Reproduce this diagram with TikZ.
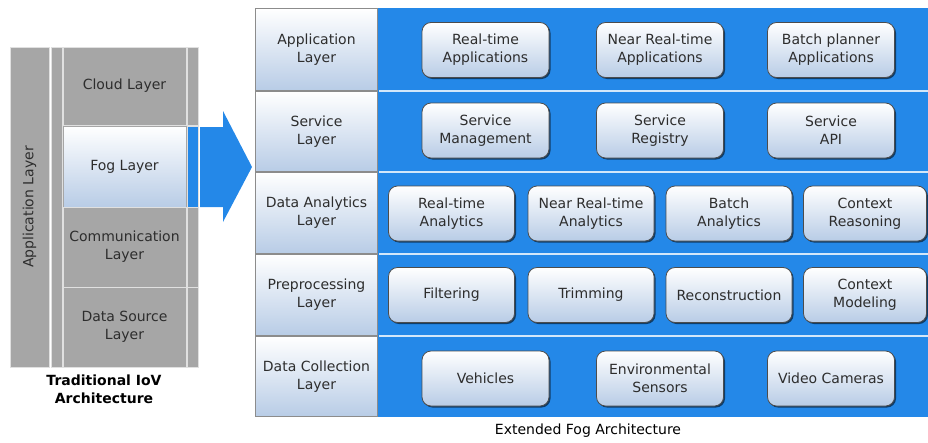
\documentclass[tikz,border=0pt]{standalone}
\usepackage{fontspec}
\setmainfont{DejaVu Sans}
\usetikzlibrary{shadows}

\definecolor{azulfog}{RGB}{36,136,232}
\definecolor{azulclaro}{RGB}{184,204,230}
\definecolor{cinzacamada}{RGB}{166,166,166}
\definecolor{textoescuro}{RGB}{45,45,45}

\begin{document}
\begin{tikzpicture}[x=1pt,y=-1pt,
    font=\fontsize{14}{18}\selectfont,
    cinza/.style={draw=white!88!black, line width=1pt, fill=cinzacamada,
        text=textoescuro, align=center, inner sep=0pt},
    rotulo/.style={draw=black!45, line width=0.8pt, top color=white, bottom color=azulclaro,
        text=textoescuro, align=center, inner sep=0pt,
        minimum width=122pt},
    caixa/.style={draw=black!70, line width=0.8pt, rounded corners=9pt,
        top color=white, bottom color=azulclaro, text=textoescuro,
        align=center, inner sep=0pt, minimum height=55pt,
        drop shadow={shadow xshift=1.5pt, shadow yshift=-1.5pt, opacity=0.55, fill=black}},
    separa/.style={draw=white!80!azulfog, line width=1.5pt}]

        \useasboundingbox (0,0) rectangle (928,442);

        % arquitetura tradicional
        \node[cinza, rotate=90, minimum width=320pt, minimum height=39pt] (appvert) at (29.5,207) {Application Layer};
        \node[cinza, minimum width=11pt, minimum height=320pt] (barraE) at (56.5,207) {};
        \node[cinza, minimum width=123pt, minimum height=78pt] (cloud) at (124.5,86) {Cloud Layer};
        \node[rotulo, draw=black!35, minimum width=123pt, minimum height=81pt] (fog) at (124.5,166.5) {Fog Layer};
        \node[cinza, minimum width=123pt, minimum height=80pt] (comm) at (124.5,247) {Communication\\Layer};
        \node[cinza, minimum width=123pt, minimum height=80pt] (fonte) at (124.5,327) {Data Source\\Layer};

        \node[cinza, minimum width=11pt, minimum height=78pt] (barraD1) at (192.5,86) {};
        \node[cinza, fill=azulfog, minimum width=11pt, minimum height=81pt] (barraD2) at (192.5,166.5) {};
        \node[cinza, minimum width=11pt, minimum height=80pt] (barraD3) at (192.5,247) {};
        \node[cinza, minimum width=11pt, minimum height=80pt] (barraD4) at (192.5,327) {};

        \node[font=\fontsize{14}{18}\selectfont\bfseries, align=center] (tituloT) at (104,389) {Traditional IoV\\Architecture};

        % seta
        \coordinate (S1) at (200,127);
        \coordinate (S2) at (223,127);
        \coordinate (S3) at (223,111);
        \coordinate (ponta) at (252,167);
        \coordinate (S4) at (223,222);
        \coordinate (S5) at (223,207);
        \coordinate (S6) at (200,207);
        \fill[azulfog] (S1) -- (S2) -- (S3) -- (ponta) -- (S4) -- (S5) -- (S6) -- cycle;

        % arquitetura fog estendida
        \fill[azulfog] (378,8) rectangle (928,417);
        \draw[separa] (379,91) -- (928,91);
        \draw[separa] (379,172) -- (928,172);
        \draw[separa] (379,254) -- (928,254);
        \draw[separa] (379,336) -- (928,336);

        \node[rotulo, minimum height=82pt] (appL) at (316.5,49.5) {Application\\Layer};
        \node[rotulo, minimum height=80pt] (servL) at (316.5,131.5) {Service\\Layer};
        \node[rotulo, minimum height=81pt] (dadosL) at (316.5,213) {Data Analytics\\Layer};
        \node[rotulo, minimum height=81pt] (preL) at (316.5,295) {Preprocessing\\Layer};
        \node[rotulo, minimum height=80pt] (coletaL) at (316.5,376.5) {Data Collection\\Layer};

        % camada de aplicacao
        \node[caixa, minimum width=127pt] (rtApp) at (485.5,50) {Real-time\\Applications};
        \node[caixa, minimum width=127pt] (nrtApp) at (660,50) {Near Real-time\\Applications};
        \node[caixa, minimum width=127pt] (batchApp) at (831,50) {Batch planner\\Applications};

        % camada de servico
        \node[caixa, minimum width=127pt] (servMan) at (485.5,130.5) {Service\\Management};
        \node[caixa, minimum width=127pt] (servReg) at (660,130.5) {Service\\Registry};
        \node[caixa, minimum width=127pt] (servAPI) at (831,130.5) {Service\\API};

        % camada de analise
        \node[caixa, minimum width=126pt] (rtAna) at (451.5,213.5) {Real-time\\Analytics};
        \node[caixa, minimum width=126pt] (nrtAna) at (591,213.5) {Near Real-time\\Analytics};
        \node[caixa, minimum width=126pt] (batchAna) at (729,213.5) {Batch\\Analytics};
        \node[caixa, minimum width=123pt] (ctxRea) at (865,213.5) {Context\\Reasoning};

        % camada de preprocessamento
        \node[caixa, minimum width=126pt] (filtro) at (451.5,295) {Filtering};
        \node[caixa, minimum width=126pt] (corte) at (591,295) {Trimming};
        \node[caixa, minimum width=126pt] (recons) at (729,295) {Reconstruction};
        \node[caixa, minimum width=123pt] (ctxMod) at (865,295) {Context\\Modeling};

        % camada de coleta
        \node[caixa, minimum width=127pt] (veic) at (485.5,378.5) {Vehicles};
        \node[caixa, minimum width=127pt] (sensor) at (660,378.5) {Environmental\\Sensors};
        \node[caixa, minimum width=127pt] (camera) at (831,378.5) {Video Cameras};

        \node (tituloF) at (588,431) {Extended Fog Architecture};
    \end{tikzpicture}
\end{document}
